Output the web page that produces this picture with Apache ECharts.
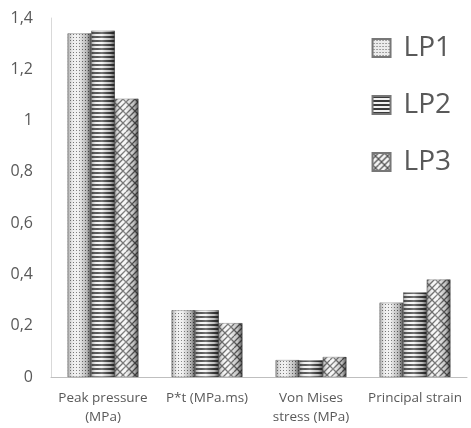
<!DOCTYPE html>
<html><head><meta charset="utf-8">
<script src="https://cdn.jsdelivr.net/npm/echarts@6/dist/echarts.min.js"></script>
<style>html,body{margin:0;padding:0;background:#fff}#c{width:471px;height:428px}</style>
</head><body><div id="c"></div>
<script>
const categories = ['Peak pressure\n(MPa)', 'P*t (MPa.ms)', 'Von Mises\nstress (MPa)', 'Principal strain'];
const seriesNames = ['LP1', 'LP2', 'LP3'];
const lp1 = [1.34, 0.26, 0.066, 0.29];
const lp2 = [1.35, 0.26, 0.065, 0.33];
const lp3 = [1.085, 0.21, 0.078, 0.38];
const yTicks = [0, 0.2, 0.4, 0.6, 0.8, 1, 1.2, 1.4];

function mk(w, h, draw) {
  const c = document.createElement('canvas'); c.width = w; c.height = h;
  const g = c.getContext('2d'); draw(g, w, h); return c;
}
const pDots = mk(3, 3, (g) => {
  g.fillStyle = '#ececec'; g.fillRect(0, 0, 3, 3);
  g.fillStyle = '#5a5a5a'; g.fillRect(1, 1, 1, 1);
});
const pStripes = mk(4, 4, (g) => {
  g.fillStyle = '#f2f2f2'; g.fillRect(0, 0, 4, 4);
  g.fillStyle = '#3a3a3a'; g.fillRect(0, 0, 4, 2);
});
const pWeave = mk(12, 12, (g) => {
  g.fillStyle = '#f4f4f4'; g.fillRect(0, 0, 12, 12);
  g.strokeStyle = '#555'; g.lineWidth = 1.3;
  g.beginPath();
  for (let k = -12; k <= 24; k += 6) { g.moveTo(k, 12); g.lineTo(k + 12, 0); }
  g.stroke();
  g.beginPath();
  for (let k = -12; k <= 24; k += 12) { g.moveTo(k, 0); g.lineTo(k + 6, 6); g.moveTo(k + 6, 6); g.lineTo(k + 12, 12); }
  g.stroke();
});
const pats = [pDots, pStripes, pWeave];
const datas = [lp1, lp2, lp3];

const shade = {
  type: 'linear', x: 0, y: 0, x2: 1, y2: 0,
  colorStops: [
    { offset: 0, color: 'rgba(60,60,60,0.45)' },
    { offset: 0.25, color: 'rgba(255,255,255,0.15)' },
    { offset: 0.45, color: 'rgba(255,255,255,0.3)' },
    { offset: 0.8, color: 'rgba(40,40,40,0.25)' },
    { offset: 1, color: 'rgba(20,20,20,0.7)' }
  ]
};

const series = [];
datas.forEach((d, i) => series.push({
  name: seriesNames[i], type: 'bar', data: d, xAxisIndex: 0,
  barGap: '0%', barCategoryGap: '32%',
  itemStyle: { color: { image: pats[i], repeat: 'repeat' }, borderColor: '#777', borderWidth: 0.5 }
}));
datas.forEach((d, i) => series.push({
  name: 'sh' + i, type: 'bar', data: d, xAxisIndex: 1, silent: true,
  barGap: '0%', barCategoryGap: '32%',
  itemStyle: { color: shade }
}));

const chart = echarts.init(document.getElementById('c'));
chart.setOption({
  animation: false,
  grid: { left: 51, right: 4, top: 18, bottom: 51 },
  legend: {
    data: seriesNames, orient: 'vertical', right: 15, top: 28, icon: 'rect',
    itemWidth: 18, itemHeight: 18, itemGap: 27,
    textStyle: { fontFamily: 'Open Sans', fontSize: 28, color: '#595959', lineHeight: 30, padding: [0, 0, 0, 8] }
  },
  xAxis: [{
    type: 'category', data: categories,
    axisLine: { lineStyle: { color: '#bfbfbf' } }, axisTick: { show: false },
    axisLabel: { fontFamily: 'Open Sans', fontSize: 13.5, color: '#595959', lineHeight: 19, margin: 12, interval: 0 }
  }, {
    type: 'category', data: categories, show: false
  }],
  yAxis: {
    type: 'value', min: 0, max: 1.4, interval: 0.2,
    axisLine: { show: true, lineStyle: { color: '#d9d9d9' } },
    splitLine: { show: false },
    axisLabel: { fontFamily: 'Open Sans', fontSize: 16, color: '#595959', margin: 18,
      formatter: v => { const t = yTicks.find(x => Math.abs(x - v) < 1e-9); return String(t !== undefined ? t : v).replace('.', ','); } }
  },
  series
});
</script></body></html>
